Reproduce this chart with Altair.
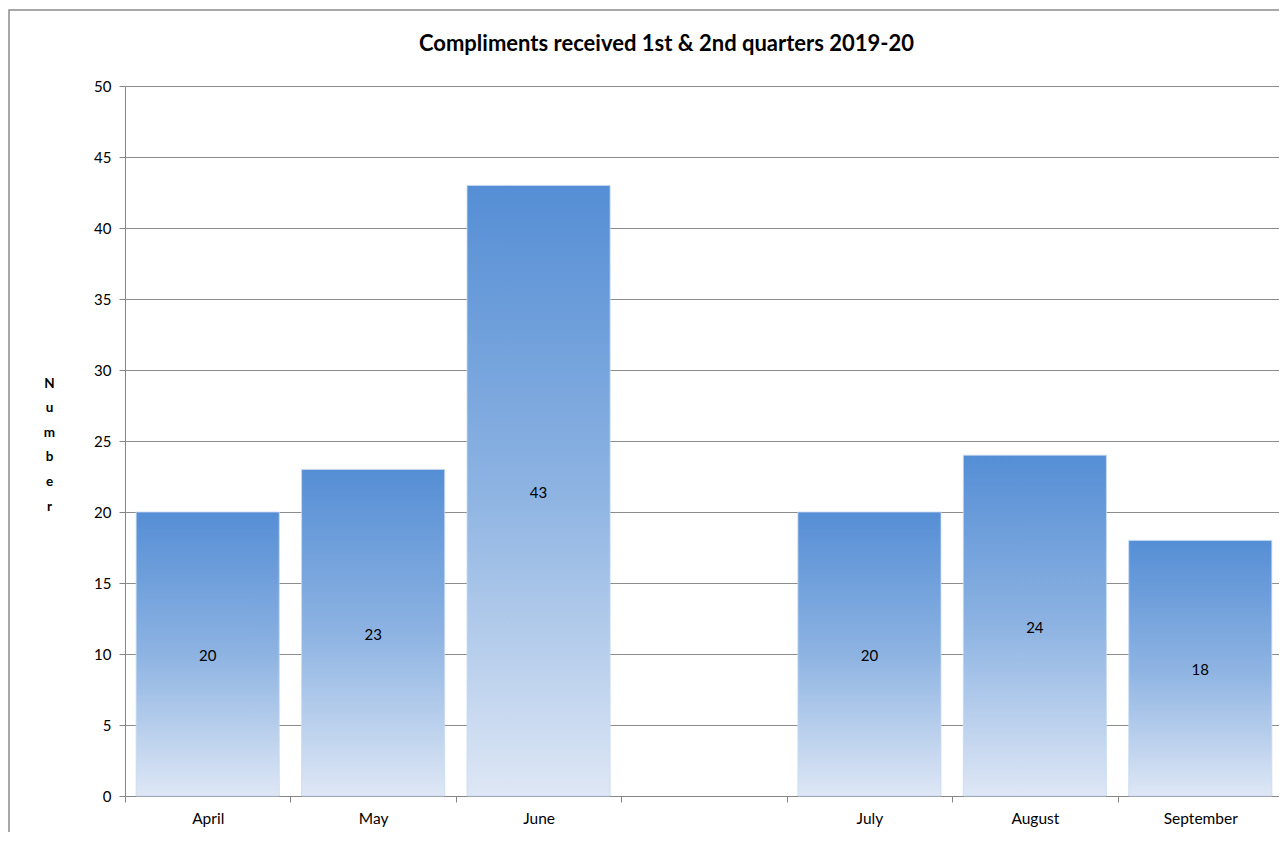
import altair as alt
import pandas as pd

months = ["April", "May", "June", " ", "July", "August", "September"]
values = [20, 23, 43, None, 20, 24, 18]
y_ticks = list(range(0, 55, 5))
title_text = "Compliments received 1st & 2nd quarters 2019-20"
y_title = list("Number")

df = pd.DataFrame({"month": months, "value": values}).dropna()
df["half"] = df["value"] / 2

W, H = 1158, 710
FONT = "Lato"

xscale = alt.Scale(domain=months, paddingInner=0, paddingOuter=0)
x = alt.X("month:N", scale=xscale,
          axis=alt.Axis(title=None, tickBand="extent", labelAngle=0, labelFontSize=15.5,
                        labelPadding=9, tickSize=6, domainColor="#868686", tickColor="#868686",
                        labelColor="#000000", labelFont=FONT, grid=False))

bars = alt.Chart(df).mark_bar(
    width=alt.RelativeBandSize(0.865),
    color=alt.Gradient(gradient="linear", x1=0, y1=0, x2=0, y2=1,
                       stops=[alt.GradientStop(offset=0, color="#558ED5"),
                              alt.GradientStop(offset=0.5, color="#8DB3E2"),
                              alt.GradientStop(offset=1, color="#DEE7F5")]),
    stroke="#C6D9F1", strokeWidth=0.8,
).encode(
    x=x,
    y=alt.Y("value:Q", scale=alt.Scale(domain=[0, 50], nice=False),
            axis=alt.Axis(values=y_ticks, title=y_title, titleAngle=0, titleFontSize=13.5,
                          titleFontWeight="bold", titleFont=FONT, titleLineHeight=24.6,
                          titleX=-76, titleY=290, titleAlign="center", titleBaseline="top",
                          labelFontSize=15, labelFont=FONT, labelColor="#000000", labelPadding=8,
                          tickSize=6, grid=True, gridColor="#8C8C8C", gridWidth=1,
                          domainColor="#868686", tickColor="#868686")),
)

labels = alt.Chart(df).mark_text(fontSize=15, font=FONT, color="#000000", baseline="middle", dy=2).encode(
    x=alt.X("month:N", scale=xscale),
    y=alt.Y("half:Q"),
    text=alt.Text("value:Q", format="d"),
)

border = alt.Chart(pd.DataFrame({"a": [0]})).mark_rect(
    fill=None, stroke="#8A8A8A", strokeWidth=1.5, clip=False
).encode(x=alt.value(-116), x2=alt.value(W + 200), y=alt.value(-76), y2=alt.value(H + 200))

chart = alt.layer(bars, labels, border).properties(
    width=W, height=H,
    title=alt.Title(title_text, fontSize=22, font=FONT, fontWeight="bold", color="#000000",
                    dx=-37.5, offset=-47),
    autosize=alt.AutoSizeParams(type="none"),
    padding={"left": 117, "top": 78, "right": -4, "bottom": 36},
).configure_view(stroke=None)

chart.save("out.html", embed_options={"renderer": "svg", "actions": False})
